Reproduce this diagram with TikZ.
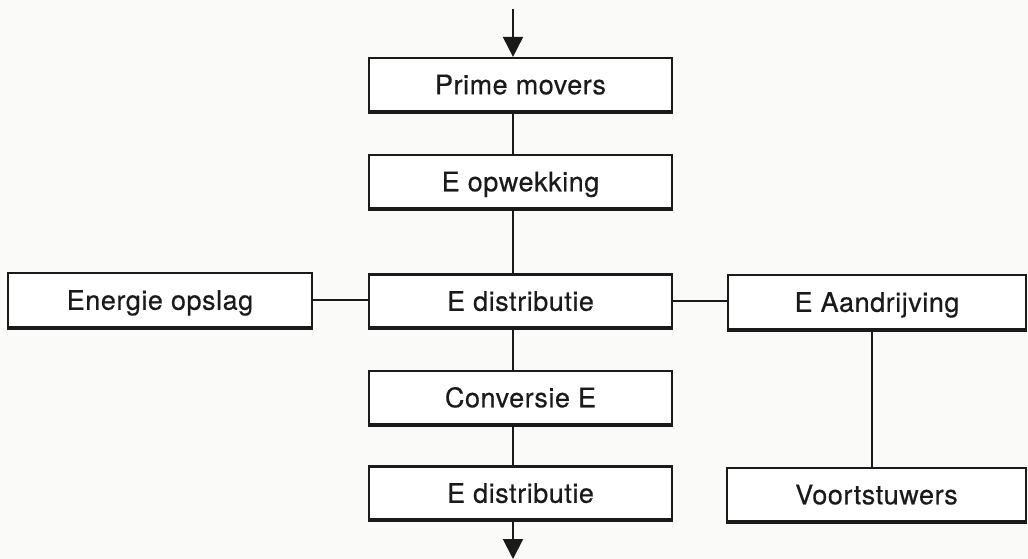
\documentclass[tikz,border=0pt]{standalone}
\usepackage{fontspec}
\setmainfont{TeX Gyre Heros}[LetterSpace=2, FakeBold=0.4]
\usetikzlibrary{arrows.meta}
\definecolor{paper}{RGB}{250,250,248}
\definecolor{ink}{RGB}{26,26,26}
\tikzset{
  blok/.style={draw=ink, fill=white, line width=2.2pt, minimum width=303pt,
    minimum height=53pt, inner sep=0pt, text=ink,
    text height=19.5pt, text depth=0pt,
    font=\fontsize{27}{32}\selectfont,
    append after command={(\tikzlastnode.south west) edge[draw=ink, line width=3.2pt]
      (\tikzlastnode.south east)}},
  verbind/.style={draw=ink, line width=2pt},
  pijl/.style={verbind, -{Triangle[length=20pt,width=20pt]}}
}
\begin{document}
\begin{tikzpicture}[x=1pt,y=1pt]
  \fill[paper] (0,0) rectangle (1028,-559);
  \useasboundingbox (0,0) rectangle (1028,-559);

  % central chain
  \node[blok] (pm)     at (520.5,-84.5) {Prime movers};
  \node[blok] (eop)    at (520.5,-181.5) {E opwekking};
  \node[blok] (edist)  at (520.5,-301) {E distributie};
  \node[blok] (conv)   at (520.5,-397.5) {Conversie E};
  \node[blok] (edist2) at (520.5,-493) {E distributie};

  % side branches
  \node[blok, minimum width=304pt, minimum height=54pt] (opslag) at (160,-300) {Energie opslag};
  \node[blok, minimum width=298pt, minimum height=54pt] (aandr) at (877,-302) {E Aandrijving};
  \node[blok, minimum width=299pt] (voort) at (876.5,-494.5) {Voortstuwers};

  % spine positions
  \coordinate (in)  at (513,-9);
  \coordinate (out) at (513,-559);
  \coordinate (rs)  at (872,0);

  \draw[pijl] (in) -- (pm.north -| in);
  \draw[verbind] (pm.south -| in) -- (eop.north -| in);
  \draw[verbind] (eop.south -| in) -- (edist.north -| in);
  \draw[verbind] (edist.south -| in) -- (conv.north -| in);
  \draw[verbind] (conv.south -| in) -- (edist2.north -| in);
  \draw[pijl] (edist2.south -| in) -- (out);

  \draw[verbind] (opslag.east) -- (opslag.east -| edist.west);
  \draw[verbind] (edist.east) -- (edist.east -| aandr.west);
  \draw[verbind] (aandr.south -| rs) -- (voort.north -| rs);
\end{tikzpicture}
\end{document}
